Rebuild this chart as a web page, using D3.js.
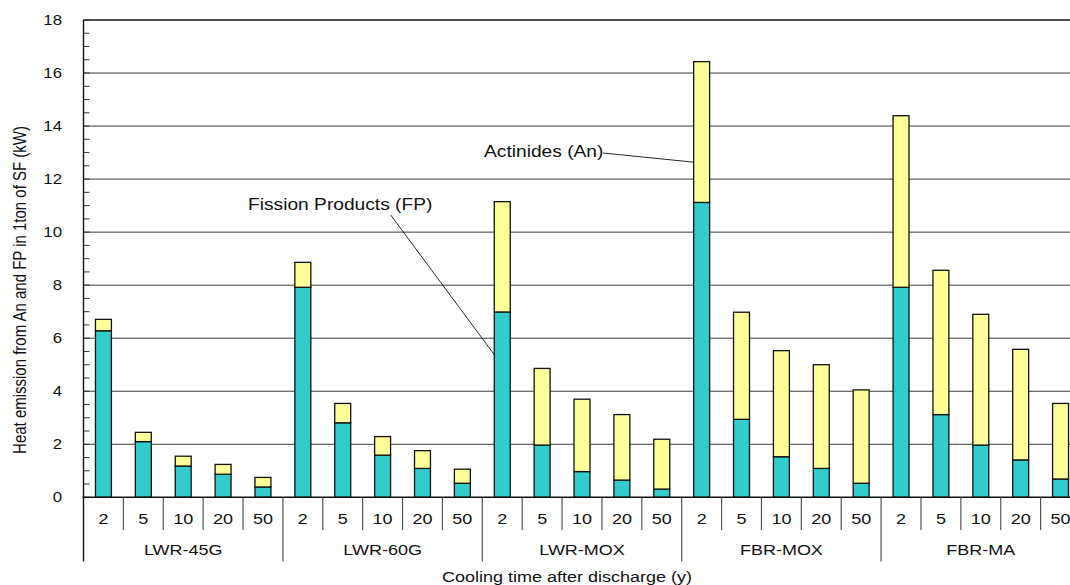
<!DOCTYPE html>
<html>
<head>
<meta charset="utf-8">
<script src="https://cdn.jsdelivr.net/npm/d3@7/dist/d3.min.js"></script>
<style>
  html, body { margin: 0; padding: 0; background: #fff; }
  svg { display: block; }
  text { font-family: "Liberation Sans", Arial, sans-serif; fill: #111; }
</style>
</head>
<body>
<svg id="chart" width="1070" height="585"></svg>
<script>
// Fuel types (groups) and cooling times (years)
const fuels = ["LWR-45G", "LWR-60G", "LWR-MOX", "FBR-MOX", "FBR-MA"];
const coolingTimes = ["2", "5", "10", "20", "50"];

// Heat from fission products (kW per ton of spent fuel), per fuel, per cooling time
const fpHeat = [
  [6.28, 2.10, 1.18, 0.87, 0.39],
  [7.92, 2.81, 1.59, 1.09, 0.53],
  [6.99, 1.97, 0.97, 0.65, 0.31],
  [11.12, 2.94, 1.53, 1.09, 0.53],
  [7.92, 3.12, 1.97, 1.41, 0.69]
];
// Heat from actinides (kW per ton of spent fuel)
const anHeat = [
  [0.43, 0.35, 0.37, 0.37, 0.36],
  [0.94, 0.73, 0.70, 0.67, 0.53],
  [4.16, 2.89, 2.73, 2.47, 1.88],
  [5.31, 4.04, 4.00, 3.91, 3.52],
  [6.47, 5.44, 4.93, 4.17, 2.85]
];
const yTicks = [0, 2, 4, 6, 8, 10, 12, 14, 16, 18];

const rows = [];
fuels.forEach((f, gi) => coolingTimes.forEach((t, ti) => {
  rows.push({ id: gi * coolingTimes.length + ti, fuel: f, time: t, fp: fpHeat[gi][ti], an: anHeat[gi][ti] });
}));

const svg = d3.select("#chart");
const plotLeft = 83.5, plotRight = 1080.5, plotTop = 20, plotBottom = 497.3;
const SX = 1.2; // horizontal stretch applied to lettering

const x = d3.scaleBand().domain(rows.map(d => d.id)).range([plotLeft, plotRight])
  .paddingInner(0.6).paddingOuter(0.3);
const y = d3.scaleLinear().domain([0, 18]).range([plotBottom, plotTop]);
const step = x.step();

function label(g, tx, ty, str, size, anchor, extra) {
  return g.append("text")
    .attr("transform", `translate(${tx},${ty}) scale(${SX},1)` + (extra || ""))
    .attr("text-anchor", anchor)
    .attr("dominant-baseline", "central")
    .style("font-size", size + "px")
    .text(str);
}

// Horizontal gridlines
const grid = svg.append("g");
yTicks.filter(v => v > 0).forEach(v => {
  grid.append("line")
    .attr("x1", plotLeft).attr("x2", 1070)
    .attr("y1", y(v)).attr("y2", y(v))
    .attr("stroke", v === 18 ? "#111" : "#3a3a3a")
    .attr("stroke-width", v === 18 ? 1.4 : 1);
});

// Minor ticks on the value axis (inside the plot)
const minor = d3.range(0, 18.01, 0.5);
svg.append("g").selectAll("line").data(minor).join("line")
  .attr("x1", plotLeft).attr("x2", plotLeft + 6)
  .attr("y1", d => y(d)).attr("y2", d => y(d))
  .attr("stroke", "#333").attr("stroke-width", 1);

// Stacked bars
const stack = d3.stack().keys(["fp", "an"]);
const series = stack(rows);
const colors = { fp: "#33CCCC", an: "#FFFF99" };
svg.append("g").selectAll("g").data(series).join("g")
  .attr("fill", d => colors[d.key])
  .selectAll("rect").data(d => d).join("rect")
  .attr("x", d => x(d.data.id))
  .attr("width", x.bandwidth())
  .attr("y", d => y(d[1]))
  .attr("height", d => y(d[0]) - y(d[1]))
  .attr("stroke", "#111").attr("stroke-width", 1.3);

// Value axis line
svg.append("line").attr("x1", plotLeft).attr("x2", plotLeft)
  .attr("y1", plotTop).attr("y2", 561.5)
  .attr("stroke", "#111").attr("stroke-width", 1.4);
// Baseline
svg.append("line").attr("x1", plotLeft - 1).attr("x2", 1070)
  .attr("y1", plotBottom).attr("y2", plotBottom)
  .attr("stroke", "#111").attr("stroke-width", 1.6);

// Value axis labels
const yl = svg.append("g");
yTicks.forEach(v => label(yl, 62, y(v), String(v), 14, "end"));

// Category separators and labels
const cat = svg.append("g");
rows.forEach((d, i) => {
  const x0 = plotLeft + i * step;
  if (i > 0) {
    const isGroup = i % coolingTimes.length === 0;
    cat.append("line").attr("x1", x0).attr("x2", x0)
      .attr("y1", plotBottom).attr("y2", isGroup ? 561.5 : 530)
      .attr("stroke", "#555").attr("stroke-width", 1.2);
  }
  label(cat, x(d.id) + x.bandwidth() / 2, 519, d.time, 15, "middle");
});
fuels.forEach((f, gi) => {
  const cx = plotLeft + (gi + 0.5) * step * coolingTimes.length;
  label(cat, cx, 550, f, 15, "middle");
});

// Axis titles
label(svg, 567, 577, "Cooling time after discharge (y)", 15, "middle");
label(svg, 20, 290, "Heat emission from An and FP in 1ton of SF (kW)", 15, "middle", " rotate(-90)");

// Callouts
const fpRow = rows.find(d => d.fuel === "LWR-MOX" && d.time === "2");
const anRow = rows.find(d => d.fuel === "FBR-MOX" && d.time === "2");
const notes = svg.append("g");
label(notes, 248, 205, "Fission Products (FP)", 16, "start");
notes.append("line")
  .attr("x1", 390.7).attr("y1", 215)
  .attr("x2", x(fpRow.id)).attr("y2", y(fpRow.fp * 0.77))
  .attr("stroke", "#111").attr("stroke-width", 0.9);
label(notes, 484, 152, "Actinides (An)", 16, "start");
notes.append("line")
  .attr("x1", 603).attr("y1", 153)
  .attr("x2", x(anRow.id)).attr("y2", y(anRow.fp + anRow.an * 0.286))
  .attr("stroke", "#111").attr("stroke-width", 0.9);
</script>
</body>
</html>
